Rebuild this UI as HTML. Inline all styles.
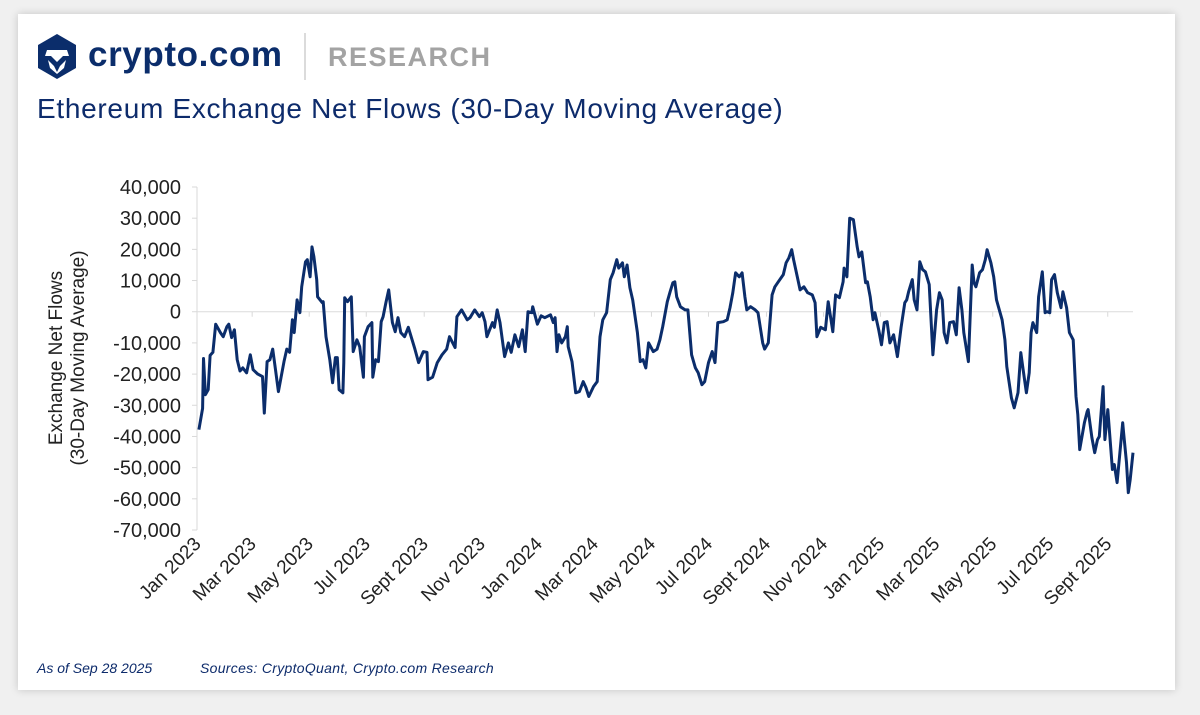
<!DOCTYPE html>
<html><head><meta charset="utf-8">
<style>
html,body{margin:0;padding:0;background:#f0f0f0;}
body{width:1200px;height:715px;position:relative;overflow:hidden;font-family:"Liberation Sans",sans-serif;}
#card{position:absolute;left:18px;top:14px;width:1157px;height:676px;background:#fff;box-shadow:0 0 8px rgba(0,0,0,0.18);}
</style></head>
<body>
<div id="card"></div>
<svg width="1200" height="715" style="position:absolute;left:0;top:0">
  <g>
    <polygon points="57,34 76,45 76,68 57,79 38,68 38,45" fill="#0b2d6b"/>
    <path d="M47,50 L67,50 L69,56 L63,56 L57,62 L51,56 L45,56 Z" fill="#fff"/>
    <path d="M48,60 L54,66 L57,72 L60,66 L66,60 L64,68 L57,74 L50,68 Z" fill="#fff"/>
  </g>
  <text x="88" y="66" font-size="35" font-weight="bold" fill="#0b2d6b" letter-spacing="0.6" font-family="Liberation Sans, sans-serif">crypto.com</text>
  <line x1="305" y1="33" x2="305" y2="80" stroke="#cfcfcf" stroke-width="1.5"/>
  <text x="328" y="66" font-size="27" font-weight="bold" fill="#a3a3a3" letter-spacing="1.5" font-family="Liberation Sans, sans-serif">RESEARCH</text>
  <text x="37" y="118" font-size="28" fill="#0d2b6b" letter-spacing="0.7" font-family="Liberation Sans, sans-serif">Ethereum Exchange Net Flows (30-Day Moving Average)</text>
  <g id="axes"></g>
  <g id="plot"></g>
  <text transform="translate(62,358) rotate(-90)" text-anchor="middle" font-size="19" fill="#222" font-family="Liberation Sans, sans-serif"><tspan x="0" dy="0">Exchange Net Flows</tspan><tspan x="0" dy="22">(30-Day Moving Average)</tspan></text>
  <text x="37" y="673" font-size="14" font-style="italic" fill="#0d2b6b" font-family="Liberation Sans, sans-serif">As of Sep 28 2025</text>
  <text x="200" y="673" font-size="14" font-style="italic" fill="#0d2b6b" letter-spacing="0.3" font-family="Liberation Sans, sans-serif">Sources: CryptoQuant, Crypto.com Research</text>
</svg>
<script>
const yTicks=[40000,30000,20000,10000,0,-10000,-20000,-30000,-40000,-50000,-60000,-70000];
const xTickLabels=["Jan 2023","Mar 2023","May 2023","Jul 2023","Sept 2023","Nov 2023","Jan 2024","Mar 2024","May 2024","Jul 2024","Sept 2024","Nov 2024","Jan 2025","Mar 2025","May 2025","Jul 2025","Sept 2025"];
const xTickDays=[0,59,120,181,243,304,365,425,486,547,609,670,731,790,851,912,974];
const days=[2,6,7,9,12,14,17,20,25,28,32,34,37,40,43,46,49,53,57,60,65,70,72,75,78,81,84,87,90,93,96,99,102,104,107,110,112,116,118,121,123,125,128,129,134,135,138,142,145,148,150,152,156,157,158,161,165,167,171,174,178,179,183,187,188,191,194,197,199,202,205,209,212,215,218,222,226,230,233,237,242,246,247,252,257,262,267,270,276,278,283,289,292,297,302,305,308,310,316,318,321,324,329,333,336,340,344,348,351,354,358,359,364,368,372,378,381,383,385,387,390,394,396,397,401,405,409,413,416,419,424,428,431,434,438,442,445,449,451,455,457,460,463,466,471,474,477,480,483,488,492,495,498,503,506,509,511,513,517,522,525,529,533,536,540,543,547,551,554,557,563,567,570,573,576,580,583,586,588,592,597,600,605,607,611,615,618,621,627,630,633,636,638,642,645,649,653,658,661,663,667,672,675,678,680,683,687,691,692,695,698,702,706,708,711,715,717,720,723,725,729,732,735,738,741,745,749,753,757,759,761,765,767,770,773,776,779,783,787,789,791,794,797,799,802,805,809,812,815,818,820,825,829,831,833,837,840,843,845,849,852,855,861,864,866,871,874,878,881,883,887,890,892,894,898,900,904,907,909,912,914,917,920,924,926,930,933,937,940,942,944,949,952,953,957,960,963,965,969,971,974,979,981,984,987,990,991,994,996,998,1001];
const values=[-37.8,-31,-15,-26.6,-25,-14,-13,-4,-6.7,-8,-4.8,-4,-8.3,-5.8,-15.4,-19,-18,-19.6,-13.8,-18.6,-20,-20.8,-32.5,-16,-15.4,-12,-18.6,-25.6,-20.8,-16,-12,-13,-2.6,-6.7,3.8,-0.3,8,16,16.7,11.2,20.8,17.6,10.3,4.8,2.9,3.2,-8,-15.4,-22.8,-14.7,-14.7,-25,-26,-16.3,4.5,3.2,4.8,-12.8,-9,-11.2,-21,-8,-4.8,-3.5,-21,-15.4,-16,-3.2,-1.6,2.9,7,-3.5,-6.4,-1.9,-6.7,-8,-5,-9,-12,-16.3,-12.8,-13,-21.8,-21,-16.3,-13.8,-12,-8,-11.5,-1.6,0.6,-2.6,-1.9,0.6,-1.6,-0.3,-3.2,-8,-3.5,-5,0.6,-3.5,-14.4,-10,-13,-7.4,-11.2,-5.8,-12.8,0,-0.3,1.6,-4,-1.3,-1.9,-1,-3.5,-1.9,-12.8,-7.4,-10,-8,-4.8,-11.2,-16,-26,-25.6,-22.4,-24.4,-27.2,-24,-22.4,-8,-2.6,-0.3,10.3,12.5,16.7,14,15.7,11.2,15,7.7,3.8,-6.7,-16,-15.4,-18,-10,-12.8,-12,-9,-4.8,3.2,6.4,9.3,9.6,4.8,1.6,0.6,0.6,-13.8,-18,-19.6,-23.4,-22.4,-16.3,-12.8,-16.3,-3.5,-3.2,-2.6,1.3,6.1,12.5,11.2,12.5,4.8,0.6,1.6,0.6,-0.3,-10,-12,-10,5.4,8,9.3,11.9,15.7,17.3,19.9,16.7,11.2,7,8,6.1,5.4,2.9,-8,-5,-5.8,3.2,-2.6,-6.4,5.4,4.5,9.6,14,11.2,30,29.5,20.8,17.6,19.2,9.3,9.6,4.8,-2.6,-0.3,-5.8,-10.6,-3.5,-3.2,-10,-7.4,-14.4,-5,2.9,3.8,6.4,10.3,3.8,0.6,16,13.5,12.8,8.7,-13.8,-6.4,0.6,6.1,3.8,-6.7,-10,-3.5,-3.2,-7.4,7.7,0.6,-6.7,-16,15,9.3,8,12.5,13.5,16.7,19.9,15.7,11.2,3.8,-2.6,-9,-17.6,-27.6,-30.8,-26,-13.1,-17.6,-26,-19.6,-6.7,-3.5,-6.7,4.8,12.8,-0.3,0,-0.3,10.3,11.9,6.1,1.3,6.4,1.3,-6.7,-9,-27.2,-33,-44.2,-35.6,-32,-31.4,-40.4,-45.2,-41,-40,-24,-41,-31.4,-50.6,-49,-54.8,-45.2,-35.6,-38.8,-48.4,-58,-53.8,-45.2,-43.3];

const NS="http://www.w3.org/2000/svg";
const X0=197,X1=1133,Y0=187,Y1=530,DMAX=1001,VMAX=40000,VMIN=-70000;
function xScale(d){return X0+(X1-X0)*d/DMAX;}
function yScale(v){return Y0+(Y1-Y0)*(VMAX-v)/(VMAX-VMIN);}
function mk(tag,attrs,parent){const e=document.createElementNS(NS,tag);for(const k in attrs)e.setAttribute(k,attrs[k]);parent.appendChild(e);return e;}
const axes=document.getElementById('axes'),plot=document.getElementById('plot');

let a=mk('line',{x1:X0,y1:Y0,x2:X0,y2:Y1,stroke:'#d9d9d9','stroke-width':1},axes);


let z=mk('line',{x1:X0,y1:yScale(0),x2:X1,y2:yScale(0),stroke:'#dcdcdc','stroke-width':1},axes);



yTicks.forEach(v=>{
  const y=yScale(v);
  mk('line',{x1:X0-5,y1:y,x2:X0,y2:y,stroke:'#d9d9d9'},axes);
  const t=mk('text',{x:181,y:y+7,'text-anchor':'end','font-size':20,fill:'#222','font-family':'Liberation Sans, sans-serif'},axes);
  t.textContent=v.toLocaleString('en-US');
  
  
});
xTickDays.forEach((d,i)=>{
  const x=xScale(d);
  mk('line',{x1:x,y1:yScale(0),x2:x,y2:yScale(0)+5,stroke:'#d9d9d9'},axes);
  const t=mk('text',{transform:`translate(${x+5},${Y1+15}) rotate(-45)`,'text-anchor':'end','font-size':19,fill:'#222','font-family':'Liberation Sans, sans-serif'},axes);
  t.textContent=xTickLabels[i];
  
  
});
const pts=days.map((d,i)=>xScale(d).toFixed(1)+','+yScale(values[i]*1000).toFixed(1)).join(' ');
const line=mk('polyline',{points:pts,fill:'none',stroke:'#0b2d6b','stroke-width':3,'stroke-linejoin':'round'},plot);


</script>
</body></html>
